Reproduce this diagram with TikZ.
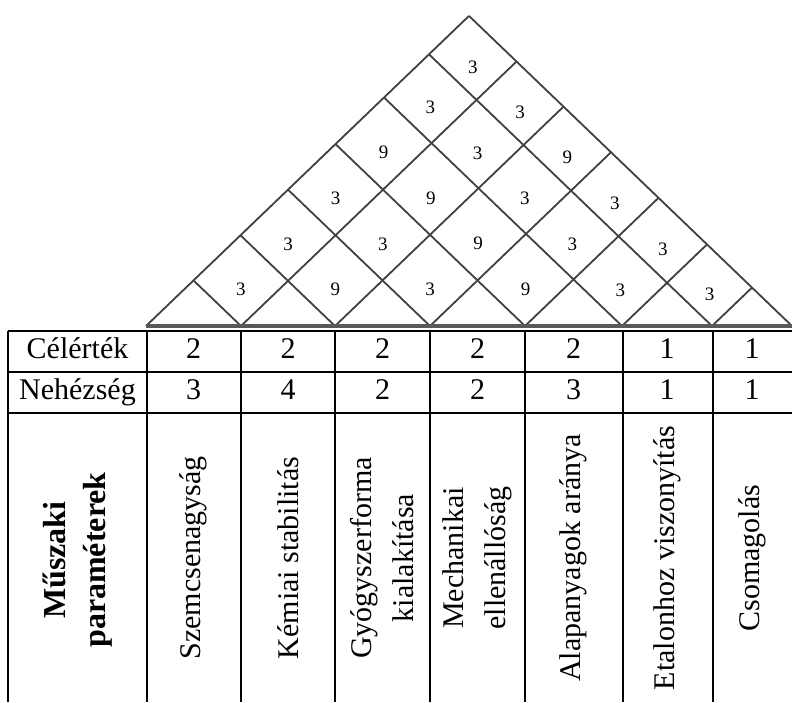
\documentclass[tikz,border=0pt]{standalone}
\usepackage{fontspec}
\setmainfont{Liberation Serif}
\usetikzlibrary{calc}

\begin{document}
\begin{tikzpicture}[x=1pt,y=-1pt,
  roofline/.style={black!75,line width=1.8pt},
  gridline/.style={black,line width=1.7pt},
  cellnum/.style={font=\fontsize{19}{19}\selectfont,inner sep=0pt},
  rowtext/.style={font=\fontsize{30}{36}\selectfont,anchor=base,inner sep=0pt},
  paramtext/.style={font=\fontsize{30}{42}\selectfont,rotate=90,align=center,inner sep=0pt}]
\useasboundingbox (0,0) rectangle (792,702);
\def\xlist{{146,241,335,430,525,622,712,792}}
\pgfmathsetmacro{\slope}{0.96}
\pgfmathsetmacro{\ybase}{326}
% roof: lines rising to the right and to the left
\foreach \i in {0,...,6}{
  \pgfmathsetmacro{\xa}{\xlist[\i]}
  \pgfmathsetmacro{\xe}{(\xa+792)/2}
  \pgfmathsetmacro{\ye}{\ybase-\slope*(792-\xa)/2}
  \draw[roofline] (\xa,\ybase)--(\xe,\ye);
}
\foreach \j in {1,...,7}{
  \pgfmathsetmacro{\xa}{\xlist[\j]}
  \pgfmathsetmacro{\xe}{(\xa+146)/2}
  \pgfmathsetmacro{\ye}{\ybase-\slope*(\xa-146)/2}
  \draw[roofline] (\xa,\ybase)--(\xe,\ye);
}
\draw[black!65,line width=3.5pt] (146,\ybase)--(792,\ybase);
% correlation values
\foreach \a/\b/\v in {0/1/3,1/2/9,2/3/3,3/4/9,4/5/3,5/6/3,
  0/2/3,1/3/3,2/4/9,3/5/3,4/6/3,
  0/3/3,1/4/9,2/5/3,3/6/3,
  0/4/9,1/5/3,2/6/9,
  0/5/3,1/6/3,
  0/6/3}{
  \pgfmathtruncatemacro{\anext}{\a+1}
  \pgfmathtruncatemacro{\bnext}{\b+1}
  \pgfmathsetmacro{\xa}{\xlist[\a]}
  \pgfmathsetmacro{\xb}{\xlist[\anext]}
  \pgfmathsetmacro{\xc}{\xlist[\b]}
  \pgfmathsetmacro{\xd}{\xlist[\bnext]}
  \pgfmathsetmacro{\cx}{(\xa+\xb+\xc+\xd)/4}
  \pgfmathsetmacro{\cy}{\ybase-\slope*(\xc+\xd-\xa-\xb)/4+9}
  \node[cellnum] (r\a\b) at (\cx,\cy) {\v};
}
% table
\foreach \y in {331,372,413}
  \draw[gridline] (8,\y)--(792,\y);
\foreach \x in {8,147,241,335,430,525,623,713}
  \draw[gridline] (\x,331)--(\x,702);
\node[rowtext] (celertek) at (77.5,358) {Célérték};
\node[rowtext] (nehezseg) at (77.5,399) {Nehézség};
\foreach \i/\c/\n in {0/2/3,1/2/4,2/2/2,3/2/2,4/2/3,5/1/1,6/1/1}{
  \pgfmathtruncatemacro{\inext}{\i+1}
  \pgfmathsetmacro{\xa}{\xlist[\i]}
  \pgfmathsetmacro{\xb}{\xlist[\inext]}
  \pgfmathsetmacro{\cx}{(\xa+\xb)/2}
  \node[rowtext] (cel\i) at (\cx,358) {\c};
  \node[rowtext] (neh\i) at (\cx,399) {\n};
}
\node[paramtext,font=\bfseries\fontsize{32}{40}\selectfont] (muszaki) at (77.5,560) {Műszaki\\paraméterek};
\foreach \i/\t in {0/Szemcsenagyság,1/Kémiai stabilitás,2/{Gyógyszerforma\\kialakítása},
  3/{Mechanikai\\ellenállóság},4/Alapanyagok aránya,5/Etalonhoz viszonyítás,6/Csomagolás}{
  \pgfmathtruncatemacro{\inext}{\i+1}
  \pgfmathsetmacro{\xa}{\xlist[\i]}
  \pgfmathsetmacro{\xb}{\xlist[\inext]}
  \pgfmathsetmacro{\cx}{(\xa+\xb)/2}
  \node[paramtext] (param\i) at (\cx,558) {\t};
}
\end{tikzpicture}
\end{document}
